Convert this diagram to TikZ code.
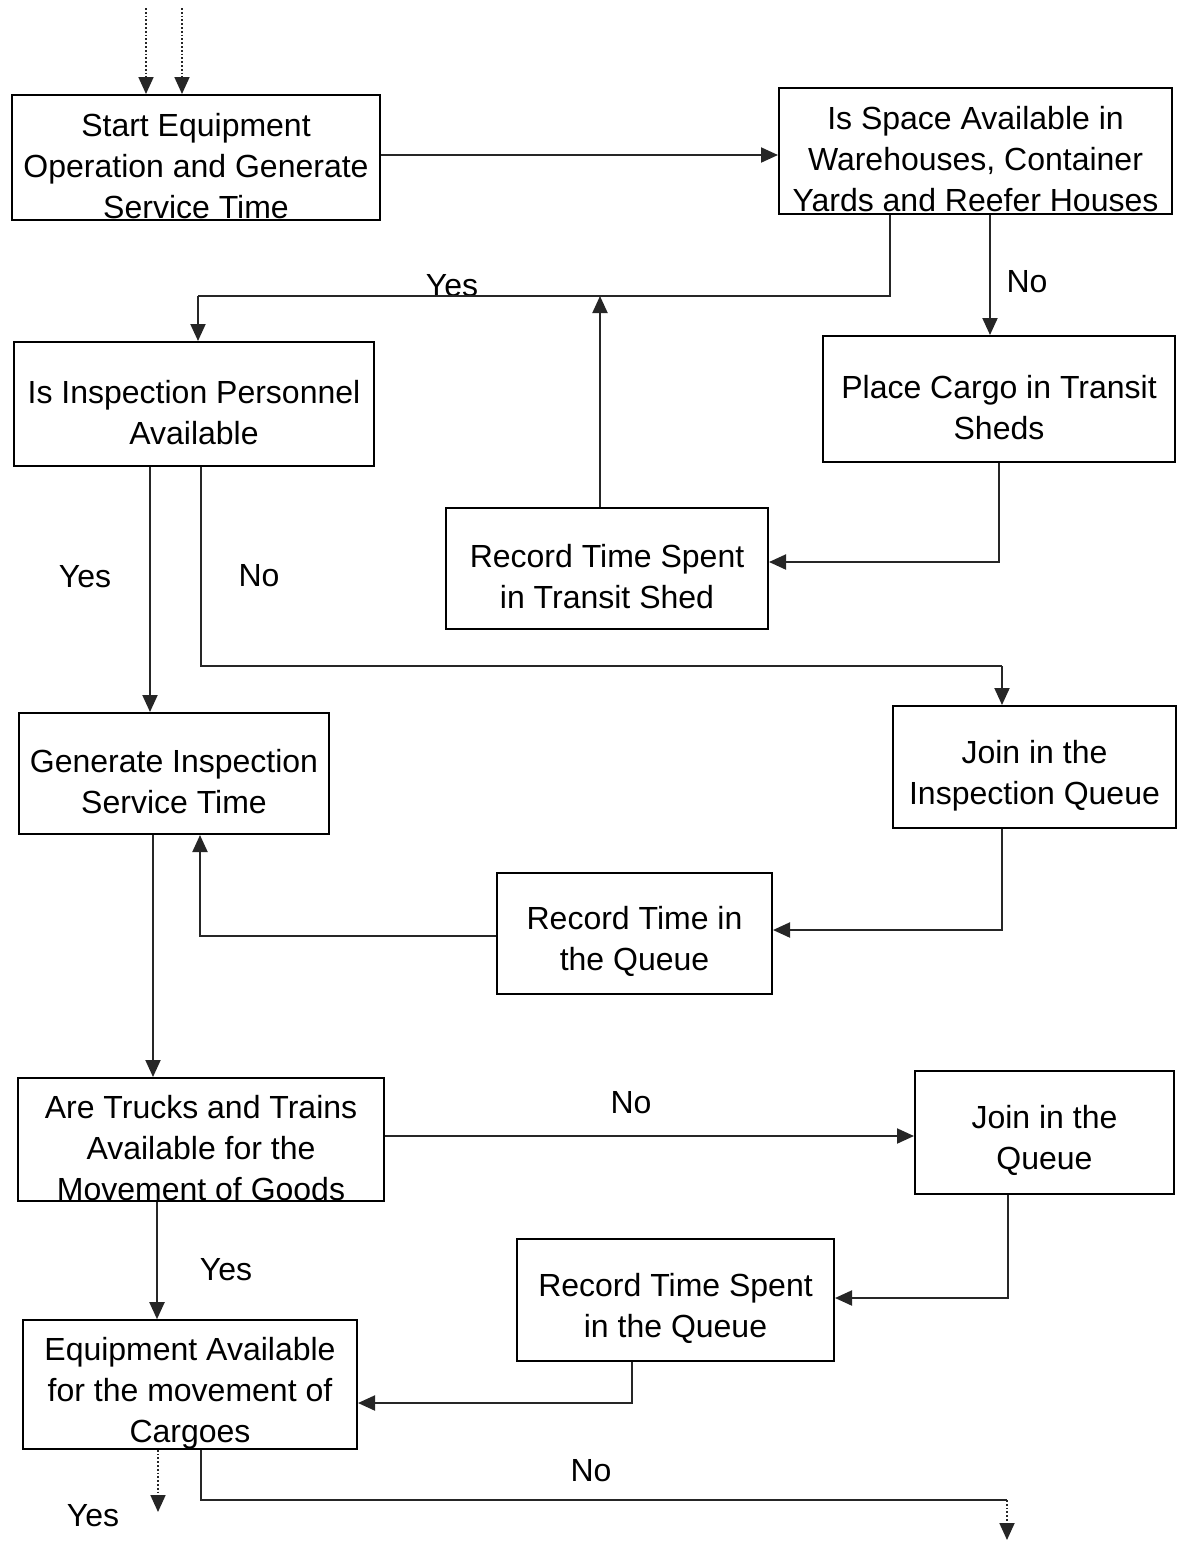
\documentclass[tikz,border=0pt]{standalone}
\usepackage{fontspec}
\setmainfont{Liberation Sans}
\usepackage{tikz}
\usetikzlibrary{arrows.meta,positioning}
\tikzstyle{procbox} = [draw, line width=1pt, text centered, align=center, inner sep=0pt, font=\fontsize{16}{20.5}\selectfont]
\tikzstyle{answer} = [inner sep=0pt, font=\fontsize{16}{20}\selectfont]
\tikzstyle{arrow} = [draw, line width=1pt, color=black!85, -{Triangle[length=8.5pt,width=7.5pt]}]
\tikzstyle{line} = [draw, line width=1pt, color=black!85]
\tikzstyle{dotarrow} = [densely dotted, draw, line width=0.9pt, color=black!85, -{Triangle[length=8.5pt,width=7.5pt]}]
\newcommand{\procbox}[4]{node (p#1) [procbox, minimum width=#2, minimum height=#3] {\rule{0pt}{20pt}#4}}
\newcommand{\answer}[2]{node (a#1) [answer] {#2}}

\begin{document}
\begin{tikzpicture}[x=0.5pt,y=-0.5pt]
\useasboundingbox (0,0) rectangle (1183,1544);
% boxes
\path (196,157.5) \procbox{1}{184pt}{62.5pt}{Start Equipment\\Operation and Generate\\Service Time};
\path (975.5,151) \procbox{2}{196.5pt}{63pt}{Is Space Available in\\Warehouses, Container\\Yards and Reefer Houses};
\path (194,404) \procbox{3}{180pt}{62pt}{Is Inspection Personnel\\Available};
\path (999,399) \procbox{4}{176pt}{63pt}{Place Cargo in Transit\\Sheds};
\path (607,568.5) \procbox{5}{161pt}{60.5pt}{Record Time Spent\\in Transit Shed};
\path (174,773.5) \procbox{6}{155pt}{60.5pt}{Generate Inspection\\Service Time};
\path (1034.5,767) \procbox{7}{141.5pt}{61pt}{Join in the\\Inspection Queue};
\path (634.5,933.5) \procbox{8}{137.5pt}{60.5pt}{Record Time in\\the Queue};
\path (201,1139.5) \procbox{9}{183pt}{61.5pt}{Are Trucks and Trains\\Available for the\\Movement of Goods};
\path (1044.5,1132.5) \procbox{10}{129.5pt}{61.5pt}{Join in the\\Queue};
\path (675.5,1300) \procbox{11}{158.5pt}{61pt}{Record Time Spent\\in the Queue};
\path (190,1384.5) \procbox{12}{167pt}{61.5pt}{Equipment Available\\for the movement of\\Cargoes};

% free ends and bends
\coordinate (in1) at (146,8);
\coordinate (in2) at (182,8);
\coordinate (yesrow) at (0,296);
\coordinate (norow) at (0,666);
\coordinate (outyes) at (158,1512);
\coordinate (nobend) at (1007,1500);
\coordinate (outno) at (1007,1540);

% answers
\path (452,286) \answer{1}{Yes};
\path (1027,282) \answer{2}{No};
\path (85,577) \answer{3}{Yes};
\path (259,576) \answer{4}{No};
\path (631,1103) \answer{5}{No};
\path (226,1270) \answer{6}{Yes};
\path (93,1516) \answer{7}{Yes};
\path (591,1471) \answer{8}{No};

% connectors
\path [dotarrow] (in1) -- (in1 |- p1.north);
\path [dotarrow] (in2) -- (in2 |- p1.north);
\path [arrow] ([yshift=1.25pt]p1.east) -- ([yshift=1.25pt]p1.east -| p2.west);
\path [line] ([xshift=-43pt]p2.south) |- ([xshift=2pt]p3.north |- yesrow);
\path [arrow] ([xshift=2pt]p3.north |- yesrow) -- ([xshift=2pt]p3.north);
\path [arrow] ([xshift=7.25pt]p2.south) -- ([xshift=7.25pt]p2.south |- p4.north);
\path [arrow] (p4.south) |- ([yshift=3.25pt]p5.east);
\path [arrow] ([xshift=-3.5pt]p5.north) -- ([xshift=-3.5pt]p5.north |- yesrow);
\path [arrow] ([xshift=-22pt]p3.south) -- ([xshift=-22pt]p3.south |- p6.north);
\path [line] ([xshift=3.5pt]p3.south) |- ([xshift=-16.25pt]p7.north |- norow);
\path [arrow] ([xshift=-16.25pt]p7.north |- norow) -- ([xshift=-16.25pt]p7.north);
\path [arrow] ([xshift=-16.25pt]p7.south) |- ([yshift=1.75pt]p8.east);
\path [arrow] ([yshift=-1.25pt]p8.west) -| ([xshift=13pt]p6.south);
\path [arrow] ([xshift=-10.5pt]p6.south) -- ([xshift=-10.5pt]p6.south |- p9.north);
\path [arrow] ([yshift=1.75pt]p9.east) -- ([yshift=1.75pt]p9.east -| p10.west);
\path [arrow] ([xshift=-18.25pt]p10.south) |- ([yshift=1pt]p11.east);
\path [arrow] ([xshift=-21.75pt]p11.south) |- ([yshift=-9.25pt]p12.east);
\path [arrow] ([xshift=-22pt]p9.south) -- ([xshift=-22pt]p9.south |- p12.north);
\path [dotarrow] (outyes |- p12.south) -- (outyes);
\path [line] ([xshift=5.5pt]p12.south) |- (nobend);
\path [dotarrow] (nobend) -- (outno);
\end{tikzpicture}
\end{document}
